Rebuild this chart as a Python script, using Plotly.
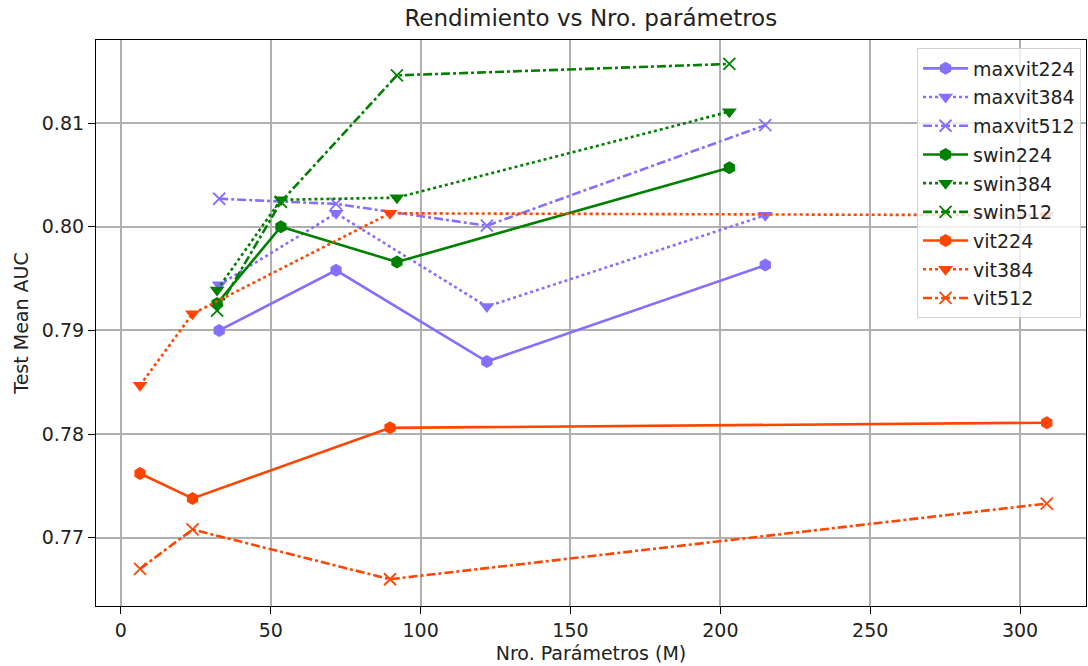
import plotly.graph_objects as go

# Data (x = params in millions, y = test mean AUC)
maxvit_x = [32.8, 71.8, 122.1, 215.0]
maxvit224 = [0.7900, 0.7958, 0.7870, 0.7963]
maxvit384 = [0.7944, 0.8013, 0.7923, 0.8011]
maxvit512 = [0.8027, 0.8022, 0.8001, 0.8098]

swin_x = [32.1, 53.4, 92.1, 203.0]
swin224 = [0.7926, 0.8000, 0.7966, 0.8057]
swin384 = [0.7939, 0.8026, 0.8028, 0.8111]
swin512 = [0.7919, 0.8024, 0.8146, 0.8157]

vit_x = [6.4, 23.9, 89.8, 308.9]
vit224 = [0.7762, 0.7738, 0.7806, 0.7811]
vit384 = [0.7847, 0.7916, 0.8013, 0.8011]
vit512 = [0.7670, 0.7708, 0.7660, 0.7733]

PURPLE = "#8470FF"
GREEN = "#008000"
ORANGE = "#FF4500"

series = [
    ("maxvit224", maxvit_x, maxvit224, PURPLE, "solid", "hexagon"),
    ("maxvit384", maxvit_x, maxvit384, PURPLE, "dot", "triangle-down"),
    ("maxvit512", maxvit_x, maxvit512, PURPLE, "dashdot", "x-thin"),
    ("swin224", swin_x, swin224, GREEN, "solid", "hexagon"),
    ("swin384", swin_x, swin384, GREEN, "dot", "triangle-down"),
    ("swin512", swin_x, swin512, GREEN, "dashdot", "x-thin"),
    ("vit224", vit_x, vit224, ORANGE, "solid", "hexagon"),
    ("vit384", vit_x, vit384, ORANGE, "dot", "triangle-down"),
    ("vit512", vit_x, vit512, ORANGE, "dashdot", "x-thin"),
]

fig = go.Figure()
for name, xs, ys, color, dash, symbol in series:
    is_x = symbol == "x-thin"
    fig.add_trace(go.Scatter(
        x=xs, y=ys, name=name, mode="lines+markers", legendgroup=name,
        line=dict(color=color, width=2.6, dash=dash),
        marker=dict(symbol=symbol, size=12 if is_x else 13,
                    color=color, line=dict(color=color, width=1.8 if is_x else 0)),
    ))

font = "DejaVu Sans, sans-serif"
fig.update_layout(
    width=1088, height=666,
    margin=dict(l=96, r=2, t=40, b=60),
    paper_bgcolor="white", plot_bgcolor="white",
    font=dict(family=font, size=19, color="#222222"),
    title=dict(text="Rendimiento vs Nro. parámetros", x=0.543, xanchor="center",
               y=0.973, yanchor="middle", font=dict(size=23, color="#222222")),
    legend=dict(x=0.995, xanchor="right", y=0.985, yanchor="top",
                bgcolor="rgba(255,255,255,0.8)", bordercolor="#d0d0d0", borderwidth=1,
                font=dict(size=19), tracegroupgap=1, itemwidth=45),
    showlegend=True,
)
fig.update_xaxes(
    range=[-8.3, 322.0], tickvals=[0, 50, 100, 150, 200, 250, 300],
    showgrid=True, gridcolor="#b0b0b0", gridwidth=1.5,
    showline=True, linecolor="black", linewidth=1.2, mirror=True,
    ticks="outside", ticklen=7, tickcolor="black", automargin=False,
    zeroline=False,
    title=dict(text="Nro. Parámetros (M)", font=dict(size=19), standoff=6),
)
fig.update_yaxes(
    range=[0.76342, 0.81801], tickvals=[0.77, 0.78, 0.79, 0.80, 0.81],
    tickformat=".2f",
    showgrid=True, gridcolor="#b0b0b0", gridwidth=1.5,
    showline=True, linecolor="black", linewidth=1.2, mirror=True,
    ticks="outside", ticklen=7, tickcolor="black", automargin=False,
    zeroline=False,
    title=dict(text="Test Mean AUC", font=dict(size=19), standoff=8),
)

fig.write_html("out.html", config={"displayModeBar": False},
               post_script="document.body.style.margin='0';")
